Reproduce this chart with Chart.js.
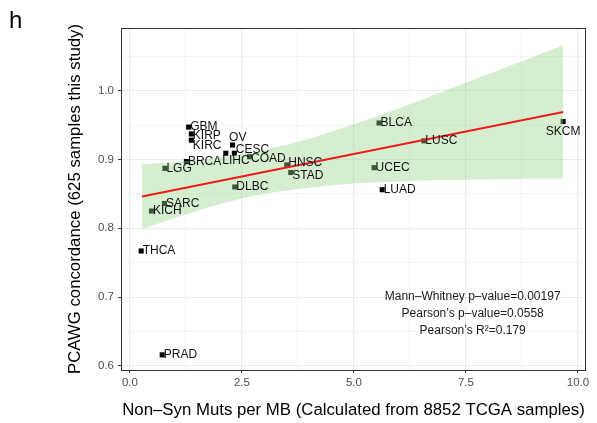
<!DOCTYPE html>
<html>
<head>
<meta charset="utf-8">
<script src="https://cdn.jsdelivr.net/npm/chart.js@4/dist/chart.umd.min.js"></script>
<style>
    body { margin: 0; background: #fff; }
    #wrap { width: 597px; height: 423px; position: relative; }
</style>
</head>
<body>
<div id="wrap"><canvas id="myChart"></canvas></div>
<script>
// Cancer types and their values
const cancerTypes = ['GBM', 'KIRP', 'KIRC', 'OV', 'CESC', 'LIHC', 'BRCA', 'COAD', 'HNSC', 'STAD', 'LGG',
    'DLBC', 'SARC', 'KICH', 'THCA', 'PRAD', 'BLCA', 'LUSC', 'SKCM', 'UCEC', 'LUAD'];
const mutsPerMb = [1.31, 1.37, 1.37, 2.29, 2.33, 2.14, 1.26, 2.67, 3.50, 3.59, 0.78,
    2.34, 0.77, 0.48, 0.25, 0.72, 5.56, 6.56, 9.67, 5.45, 5.63];
const concordance = [0.947, 0.937, 0.928, 0.921, 0.909, 0.909, 0.897, 0.904, 0.892, 0.881, 0.887,
    0.860, 0.836, 0.825, 0.767, 0.616, 0.953, 0.927, 0.955, 0.888, 0.856];

// Regression line and confidence band
const fitX = [0.27, 9.67];
const fitY = [0.846, 0.969];
const bandX = [0.27, 1, 2, 3, 4, 5, 6, 7, 8, 9, 9.67];
const bandUpper = [0.893, 0.896, 0.903, 0.914, 0.930, 0.951, 0.974, 0.999, 1.024, 1.049, 1.066];
const bandLower = [0.799, 0.815, 0.835, 0.850, 0.859, 0.865, 0.868, 0.870, 0.871, 0.872, 0.872];

// Axis ticks (major + minor grid)
const xTicks = [0, 1.25, 2.5, 3.75, 5, 6.25, 7.5, 8.75, 10];
const yTicks = [0.6, 0.65, 0.7, 0.75, 0.8, 0.85, 0.9, 0.95, 1.0, 1.05];

const statsLines = ['Mann\u2013Whitney p\u2013value=0.00197', 'Pearson\u2019s p\u2013value=0.0558', 'Pearson\u2019s R\u00b2=0.179'];

// label nudges in px (default: just right of the point)
const labelNudge = {
    KIRP: [0, 2], KIRC: [0, 6], OV: [-5, -7], CESC: [0, -4], LIHC: [-5, 7],
    COAD: [0, 2.5], HNSC: [0, -2], STAD: [0, 3]
};

const FONT = "'Liberation Sans', Arial, Helvetica, sans-serif";

function isMajorX(v) { return Math.abs(v / 2.5 - Math.round(v / 2.5)) < 1e-6; }
function isMajorY(v) { return Math.abs(v / 0.1 - Math.round(v / 0.1)) < 1e-6; }

const labelPlugin = {
    id: 'labels',
    afterDatasetsDraw(chart) {
        const ctx = chart.ctx;
        const meta = chart.getDatasetMeta(0);
        ctx.save();
        ctx.font = '12px ' + FONT;
        ctx.fillStyle = '#111';
        ctx.textBaseline = 'middle';
        meta.data.forEach((pt, i) => {
            const name = cancerTypes[i];
            if (name === 'SKCM') {
                ctx.textAlign = 'center';
                ctx.fillText(name, pt.x, pt.y + 10);
                return;
            }
            const nudge = labelNudge[name] || [0, 0];
            ctx.textAlign = 'left';
            ctx.fillText(name, pt.x + 1.5 + nudge[0], pt.y + nudge[1]);
        });

        // stats text
        const xs = chart.scales.x, ys = chart.scales.y;
        const cx = xs.getPixelForValue(7.65);
        const cy = ys.getPixelForValue(0.700);
        ctx.textAlign = 'center';
        ctx.fillStyle = '#1a1a1a';
        statsLines.forEach((t, i) => ctx.fillText(t, cx, cy + i * 17));

        // panel border
        const a = chart.chartArea;
        ctx.strokeStyle = '#333';
        ctx.lineWidth = 1;
        ctx.strokeRect(a.left + 0.5, a.top + 0.5, a.right - a.left - 1, a.bottom - a.top);

        // panel letter
        ctx.textAlign = 'left';
        ctx.textBaseline = 'alphabetic';
        ctx.fillStyle = '#000';
        ctx.font = '24px ' + FONT;
        ctx.fillText('h', 9, 28);
        ctx.restore();
    }
};

const ctx = document.getElementById('myChart').getContext('2d');
const myChart = new Chart(ctx, {
    type: 'scatter',
    data: {
        datasets: [
            {
                label: 'Cancer types',
                data: mutsPerMb.map((x, i) => ({ x: x, y: concordance[i] })),
                pointStyle: 'rect',
                pointRadius: 3.6,
                backgroundColor: '#000',
                borderWidth: 0,
                order: 3
            },
            {
                label: 'Upper',
                data: bandX.map((x, i) => ({ x: x, y: bandUpper[i] })),
                showLine: true,
                pointRadius: 0,
                borderWidth: 0,
                borderColor: 'rgba(0,0,0,0)',
                backgroundColor: 'rgba(150,212,137,0.4)',
                cubicInterpolationMode: 'monotone',
                fill: '+1',
                order: 2
            },
            {
                label: 'Lower',
                data: bandX.map((x, i) => ({ x: x, y: bandLower[i] })),
                showLine: true,
                pointRadius: 0,
                borderWidth: 0,
                borderColor: 'rgba(0,0,0,0)',
                cubicInterpolationMode: 'monotone',
                fill: false,
                order: 2
            },
            {
                label: 'Fit',
                data: fitX.map((x, i) => ({ x: x, y: fitY[i] })),
                showLine: true,
                pointRadius: 0,
                borderColor: '#ee1b1b',
                borderWidth: 2,
                fill: false,
                order: 1
            }
        ]
    },
    options: {
        responsive: true,
        maintainAspectRatio: false,
        animation: false,
        layout: { padding: { top: 28, right: 11, left: 0, bottom: 0 } },
        plugins: {
            legend: { display: false },
            tooltip: { enabled: false }
        },
        scales: {
            x: {
                type: 'linear',
                min: -0.2,
                max: 10.18,
                afterBuildTicks: (scale) => { scale.ticks = xTicks.map(v => ({ value: v })); },
                afterFit: (scale) => { scale.height = 53; },
                ticks: {
                    autoSkip: false,
                    maxRotation: 0,
                    padding: 3,
                    color: '#4d4d4d',
                    font: { family: FONT, size: 11.5 },
                    callback: (v) => isMajorX(v) ? v.toFixed(1) : ''
                },
                grid: {
                    color: '#ebebeb',
                    lineWidth: (c) => (c.tick && isMajorX(c.tick.value)) ? 1.1 : 0.55,
                    tickLength: 3,
                    tickColor: (c) => (c.tick && isMajorX(c.tick.value)) ? '#333' : 'rgba(0,0,0,0)',
                    tickWidth: 1
                },
                border: { display: true, color: '#333', width: 1 },
                title: {
                    display: true,
                    text: 'Non\u2013Syn Muts per MB (Calculated from 8852 TCGA samples)',
                    color: '#000',
                    font: { family: FONT, size: 16.8 },
                    padding: { top: 0, bottom: 3 }
                }
            },
            y: {
                type: 'linear',
                min: 0.594,
                max: 1.091,
                afterBuildTicks: (scale) => { scale.ticks = yTicks.map(v => ({ value: v })); },
                afterFit: (scale) => { scale.width = 121; },
                ticks: {
                    autoSkip: false,
                    padding: 4,
                    color: '#4d4d4d',
                    font: { family: FONT, size: 11.5 },
                    callback: (v) => isMajorY(v) ? v.toFixed(1) : ''
                },
                grid: {
                    color: '#ebebeb',
                    lineWidth: (c) => (c.tick && isMajorY(c.tick.value)) ? 1.1 : 0.55,
                    tickLength: 3,
                    tickColor: (c) => (c.tick && isMajorY(c.tick.value)) ? '#333' : 'rgba(0,0,0,0)',
                    tickWidth: 1
                },
                border: { display: true, color: '#333', width: 1 },
                title: {
                    display: true,
                    text: 'PCAWG concordance (625 samples this study)',
                    color: '#000',
                    font: { family: FONT, size: 16.8 },
                    padding: { top: 65, bottom: 0 }
                }
            }
        }
    },
    plugins: [labelPlugin]
});
</script>
</body>
</html>
